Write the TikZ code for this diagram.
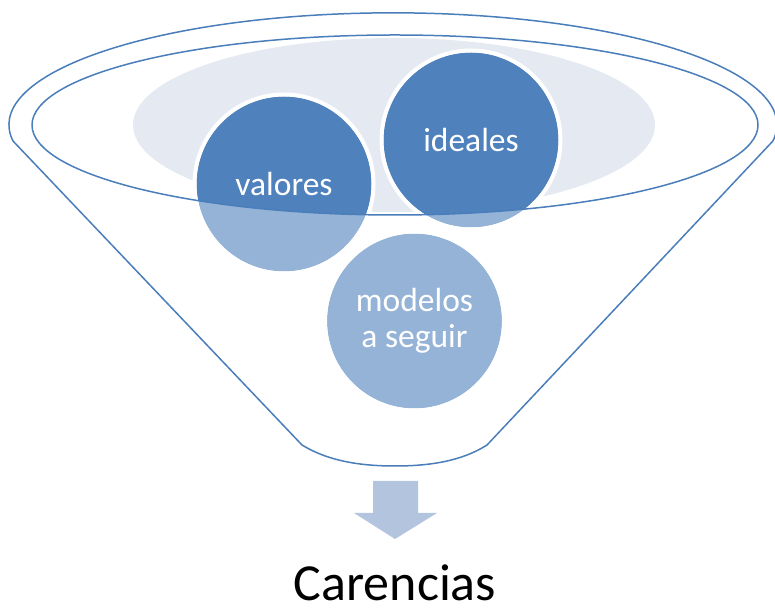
\documentclass[tikz,border=0pt]{standalone}
\usepackage{fontspec}
\setmainfont{Carlito}
\definecolor{funnelline}{HTML}{4A7EBB}
\definecolor{darkblue}{HTML}{4F81BD}
\definecolor{lightblue}{HTML}{95B3D7}
\definecolor{paleell}{HTML}{E4E9F2}
\definecolor{arrowcol}{HTML}{B3C4DF}
\begin{document}
\begin{tikzpicture}[x=1pt,y=1pt,
  funnel/.style={draw=funnelline,line width=1.5pt,line join=round},
  circtext/.style={circle,minimum size=174pt,inner sep=0pt,text=white,align=center,font=\fontsize{33.5}{36}\selectfont},
  bigtext/.style={font=\fontsize{52}{60}\selectfont,text=black,inner sep=0pt}]
\useasboundingbox (0,0) rectangle (775,607);
\clip (0,0) rectangle (775,607);
% circle centres
\coordinate (cV) at (284,423);
\coordinate (cI) at (471,467);
\coordinate (cM) at (414.5,286);
% outer funnel outline
\draw[funnel] (13,466) arc[start angle=188.3,end angle=-8.3,x radius=384,y radius=112]
  -- (487,162) .. controls (462,146) and (430,141) .. (395,141)
  .. controls (360,141) and (328,146) .. (302,162) -- cycle;
% pale ellipse
\fill[paleell] (394,482) ellipse[x radius=261,y radius=87];
% circles, light
\foreach \c in {cV,cI,cM}{
  \fill[lightblue] (\c) circle (87.5);
}
% dark parts inside inner ellipse
\begin{scope}
  \clip (395,482) ellipse[x radius=363,y radius=90];
  \foreach \c in {cV,cI}{
    \fill[darkblue] (\c) circle (87.5);
  }
\end{scope}
% white rims
\foreach \c in {cV,cI,cM}{
  \draw[white,line width=4pt] (\c) circle (89.5);
}
% inner ellipse line
\draw[funnel] (395,482) ellipse[x radius=363,y radius=90];
% labels
\node[circtext] (valores) at (cV) {valores};
\node[circtext] (ideales) at (cI) {ideales};
\node[circtext] (modelos) at (cM) {modelos\\a seguir};
% arrow
\fill[arrowcol] (373,126) -- (418,126) -- (418,94) -- (437,94) -- (395,68)
  -- (354,94) -- (373,94) -- cycle;
% result text
\node[bigtext,anchor=base] (carencias) at (395,7) {Carencias};
\end{tikzpicture}
\end{document}
